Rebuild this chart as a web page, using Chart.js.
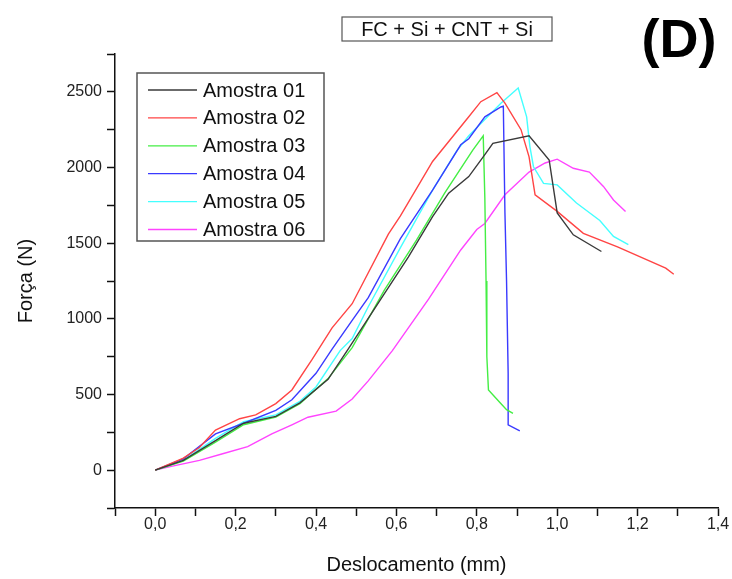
<!DOCTYPE html>
<html>
<head>
<meta charset="utf-8">
<script src="https://cdn.jsdelivr.net/npm/chart.js@4.4.1/dist/chart.umd.min.js"></script>
<style>
  html, body { margin: 0; padding: 0; background: #fff; }
  #wrap { width: 732px; height: 579px; }
</style>
</head>
<body>
<div id="wrap"><canvas id="chart" width="732" height="579"></canvas></div>
<script>
// Series names and colours
const labels = ['Amostra 01', 'Amostra 02', 'Amostra 03', 'Amostra 04', 'Amostra 05', 'Amostra 06'];
const colors = ['#3a3a3a', '#ff4444', '#44ee44', '#3a3aff', '#44ffff', '#ff44ff'];

// Deslocamento (mm) / Força (N)
const x01 = [0, 0.07, 0.15, 0.22, 0.30, 0.36, 0.43, 0.48, 0.56, 0.63, 0.69, 0.73, 0.78, 0.82, 0.84, 0.93, 0.98, 1.00, 1.04, 1.11];
const y01 = [0, 65, 195, 310, 355, 445, 600, 800, 1125, 1410, 1675, 1830, 1940, 2085, 2160, 2210, 2050, 1700, 1555, 1445];

const x02 = [0, 0.07, 0.11, 0.15, 0.21, 0.25, 0.30, 0.34, 0.39, 0.44, 0.49, 0.58, 0.61, 0.69, 0.78, 0.81, 0.85, 0.87, 0.91, 0.93, 0.945, 1.00, 1.065, 1.15, 1.27, 1.29];
const y02 = [0, 80, 150, 265, 340, 365, 440, 530, 730, 940, 1100, 1560, 1680, 2040, 2335, 2435, 2495, 2425, 2250, 2070, 1820, 1710, 1565, 1475, 1335, 1295];

const x03 = [0, 0.07, 0.15, 0.22, 0.30, 0.36, 0.43, 0.49, 0.57, 0.65, 0.72, 0.79, 0.816, 0.82, 0.823, 0.825, 0.829, 0.858, 0.874, 0.89];
const y03 = [0, 60, 185, 300, 350, 440, 605, 810, 1190, 1520, 1830, 2115, 2210, 1800, 1250, 750, 530, 445, 400, 375];

const x04 = [0, 0.07, 0.15, 0.22, 0.30, 0.34, 0.40, 0.44, 0.49, 0.53, 0.61, 0.69, 0.76, 0.78, 0.82, 0.86, 0.866, 0.87, 0.874, 0.878, 0.878, 0.907];
const y04 = [0, 75, 240, 310, 395, 465, 640, 800, 990, 1140, 1530, 1850, 2150, 2190, 2335, 2400, 2405, 1700, 1250, 640, 300, 260];

const x05 = [0, 0.07, 0.15, 0.22, 0.30, 0.36, 0.40, 0.46, 0.49, 0.53, 0.61, 0.69, 0.75, 0.78, 0.86, 0.903, 0.924, 0.932, 0.941, 0.966, 1.00, 1.048, 1.106, 1.14, 1.177];
const y05 = [0, 65, 210, 320, 365, 455, 550, 790, 870, 1080, 1470, 1850, 2110, 2210, 2425, 2525, 2335, 2140, 2005, 1895, 1885, 1765, 1650, 1545, 1490];

const x06 = [0, 0.04, 0.11, 0.17, 0.23, 0.29, 0.34, 0.38, 0.45, 0.49, 0.53, 0.59, 0.68, 0.76, 0.80, 0.82, 0.87, 0.93, 0.97, 1.00, 1.04, 1.08, 1.115, 1.14, 1.17];
const y06 = [0, 25, 65, 110, 155, 240, 300, 350, 390, 470, 590, 790, 1130, 1455, 1590, 1630, 1820, 1970, 2030, 2055, 1995, 1970, 1875, 1785, 1710];

const xs = [x01, x02, x03, x04, x05, x06];
const ys = [y01, y02, y03, y04, y05, y06];

// Axis limits
const xMin = -0.1, xMax = 1.4, xStep = 0.1;
const yMin = -250, yMax = 2750, yStep = 250;

const chartTitle = 'FC + Si + CNT + Si';
const panelTag = '(D)';

const FONT = '"Liberation Sans", Arial, sans-serif';

const datasets = labels.map((name, i) => ({
    label: name,
    data: xs[i].map((x, k) => ({ x: x, y: ys[i][k] })),
    borderColor: colors[i],
    borderWidth: 1.4,
    pointRadius: 0,
    tension: 0,
    fill: false
}));

// legend box, title box and panel tag drawn by hand
const extras = {
    id: 'extras',
    afterDraw(chart) {
        const ctx = chart.ctx;
        ctx.save();

        // legend
        ctx.strokeStyle = '#555';
        ctx.lineWidth = 1.5;
        ctx.strokeRect(137, 73, 187, 168);
        ctx.font = '20px ' + FONT;
        ctx.textBaseline = 'middle';
        ctx.textAlign = 'left';
        chart.data.datasets.forEach((ds, i) => {
            const y = 90 + i * 27.9;
            ctx.strokeStyle = ds.borderColor;
            ctx.lineWidth = 1.3;
            ctx.beginPath();
            ctx.moveTo(148, y);
            ctx.lineTo(197, y);
            ctx.stroke();
            ctx.fillStyle = '#111';
            ctx.fillText(ds.label, 203, y + 1);
        });

        // title in its box
        ctx.strokeStyle = '#555';
        ctx.lineWidth = 1.2;
        ctx.strokeRect(342, 17, 210, 24);
        ctx.fillStyle = '#111';
        ctx.font = '20px ' + FONT;
        ctx.textAlign = 'center';
        ctx.fillText(chartTitle, 447, 30);

        // panel tag
        ctx.font = 'bold 54px ' + FONT;
        ctx.textAlign = 'center';
        ctx.textBaseline = 'alphabetic';
        ctx.fillStyle = '#000';
        ctx.fillText(panelTag, 679, 57);

        ctx.restore();
    }
};

new Chart(document.getElementById('chart'), {
    type: 'line',
    data: { datasets: datasets },
    options: {
        responsive: false,
        animation: false,
        layout: { padding: { left: 0, right: 14, top: 54, bottom: 0 } },
        plugins: {
            legend: { display: false },
            tooltip: { enabled: false }
        },
        scales: {
            x: {
                type: 'linear',
                min: xMin,
                max: xMax,
                afterFit: (s) => { s.height = 71; },
                afterBuildTicks: (s) => {
                    const t = [];
                    for (let v = Math.round(xMin / xStep); v <= Math.round(xMax / xStep); v++) t.push({ value: v * xStep });
                    s.ticks = t;
                },
                grid: { drawOnChartArea: false, drawTicks: true, tickLength: 8, color: '#111', tickWidth: 1.5 },
                border: { display: true, color: '#111', width: 1.5 },
                ticks: {
                    padding: -1,
                    color: '#222',
                    font: { family: FONT, size: 16 },
                    maxRotation: 0,
                    autoSkip: false,
                    callback: (v) => {
                        const n = Math.round(v * 10);
                        if (n % 2 !== 0) return '';
                        return (n / 10).toFixed(1).replace('.', ',');
                    }
                },
                title: {
                    display: true,
                    text: 'Deslocamento (mm)',
                    color: '#111',
                    font: { family: FONT, size: 20 },
                    padding: { top: 0, bottom: 2 }
                }
            },
            y: {
                type: 'linear',
                min: yMin,
                max: yMax,
                afterFit: (s) => { s.width = 115; },
                afterBuildTicks: (s) => {
                    const t = [];
                    for (let v = yMin; v <= yMax; v += yStep) t.push({ value: v });
                    s.ticks = t;
                },
                grid: { drawOnChartArea: false, drawTicks: true, tickLength: 8, color: '#111', tickWidth: 1.5 },
                border: { display: true, color: '#111', width: 1.5 },
                ticks: {
                    padding: 5,
                    color: '#222',
                    font: { family: FONT, size: 16 },
                    autoSkip: false,
                    callback: (v) => (v % 500 === 0 ? String(v) : '')
                },
                title: {
                    display: true,
                    text: 'Força (N)',
                    color: '#111',
                    font: { family: FONT, size: 20 },
                    padding: { top: 14, bottom: 0 }
                }
            }
        }
    },
    plugins: [extras]
});
</script>
</body>
</html>
